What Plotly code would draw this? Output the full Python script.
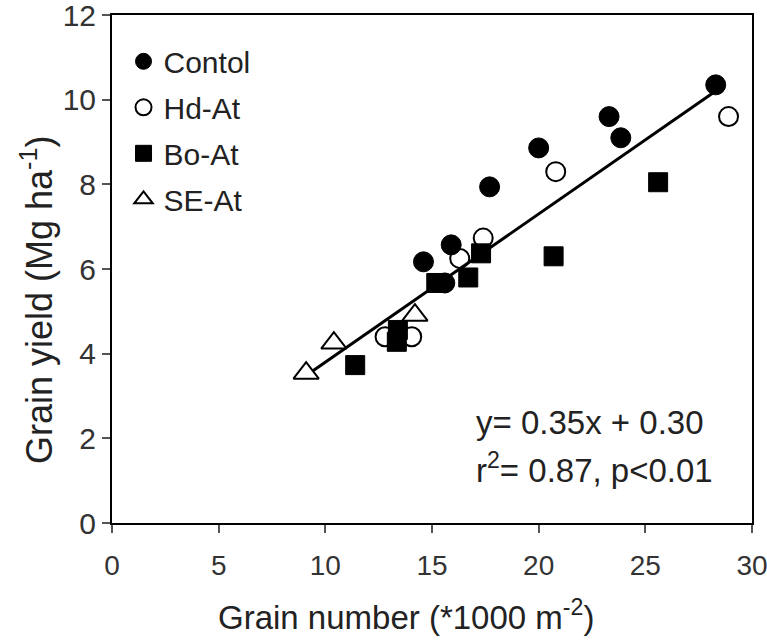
import plotly.graph_objects as go

control_x = [28.3, 23.3, 23.85, 20.0, 17.7, 14.6, 15.9, 15.6]
control_y = [10.35, 9.6, 9.1, 8.86, 7.94, 6.17, 6.57, 5.67]

hd_x = [28.9, 20.8, 17.4, 16.3, 12.8, 14.05]
hd_y = [9.6, 8.3, 6.73, 6.25, 4.4, 4.4]

bo_x = [25.6, 20.7, 17.3, 16.7, 15.2, 13.4, 13.35, 11.4]
bo_y = [8.05, 6.3, 6.37, 5.8, 5.67, 4.56, 4.28, 3.73]

se_x = [9.1, 10.4, 14.2]
se_y = [3.54, 4.25, 4.91]

fit_slope = 0.35
fit_intercept = 0.30
fit_x = [9.0, 28.3]
fit_y = [fit_slope * v + fit_intercept for v in fit_x]

FONT = "Liberation Sans, Arial, sans-serif"

fig = go.Figure()
fig.add_trace(go.Scatter(x=fit_x, y=fit_y, mode="lines", line=dict(color="black", width=3),
                         showlegend=False, hoverinfo="skip"))
fig.add_trace(go.Scatter(x=control_x, y=control_y, mode="markers", name="Contol",
                         legendgroup="a",
                         marker=dict(symbol="circle", size=20, color="black",
                                     line=dict(color="black", width=1))))
fig.add_trace(go.Scatter(x=hd_x, y=hd_y, mode="markers", name="Hd-At",
                         legendgroup="b",
                         marker=dict(symbol="circle-open", size=19, color="black",
                                     line=dict(color="black", width=2))))
fig.add_trace(go.Scatter(x=bo_x, y=bo_y, mode="markers", name="Bo-At",
                         legendgroup="c",
                         marker=dict(symbol="square", size=19, color="black",
                                     line=dict(color="black", width=1))))
fig.add_trace(go.Scatter(x=se_x, y=se_y, mode="markers", name="SE-At",
                         legendgroup="d",
                         marker=dict(symbol="triangle-up", size=22, color="white",
                                     line=dict(color="black", width=2))))

fig.update_layout(
    width=767, height=643,
    margin=dict(l=112, r=15, t=15, b=120, autoexpand=False),
    paper_bgcolor="white", plot_bgcolor="white",
    font=dict(family=FONT, size=30, color="#222"),
    showlegend=True,
    legend=dict(x=0.018, y=0.96, xanchor="left", yanchor="top",
                bgcolor="rgba(0,0,0,0)", font=dict(size=30, color="#222"),
                traceorder="grouped", tracegroupgap=4,
                itemsizing="trace"),
    xaxis=dict(range=[0, 30], tickvals=[0, 5, 10, 15, 20, 25, 30],
               showline=True, linecolor="black", linewidth=2, mirror=True,
               ticks="outside", ticklen=8, tickwidth=1.5, tickcolor="#555",
               showgrid=False, zeroline=False, ticklabeloverflow="allow",
               automargin=False, ticklabelstandoff=8,
               tickfont=dict(size=28, color="#333")),
    yaxis=dict(range=[0, 12], tickvals=[0, 2, 4, 6, 8, 10, 12],
               showline=True, linecolor="black", linewidth=2, mirror=True,
               ticks="outside", ticklen=8, tickwidth=1.5, tickcolor="#555",
               showgrid=False, zeroline=False, ticklabeloverflow="allow",
               automargin=False,
               tickfont=dict(size=30, color="#333")),
)

# axis titles placed as annotations to match the reference positions
fig.add_annotation(x=0.46, y=-0.181, xref="paper", yref="paper", xanchor="center", yanchor="middle",
                   text="Grain number (*1000 m<sup>-2</sup>)", showarrow=False,
                   font=dict(size=33, color="#222"))
fig.add_annotation(x=-0.117, y=0.439, xref="paper", yref="paper", xanchor="center", yanchor="middle",
                   text="Grain yield (Mg ha<sup>-1</sup>)", textangle=-90, showarrow=False,
                   font=dict(size=36, color="#222"))

fig.add_annotation(x=0.565, y=0.197, xref="paper", yref="paper", xanchor="left", yanchor="middle",
                   text="y= 0.35x + 0.30", showarrow=False, font=dict(size=33, color="#222"))
fig.add_annotation(x=0.565, y=0.108, xref="paper", yref="paper", xanchor="left", yanchor="middle",
                   text="r<sup>2</sup>= 0.87, p&lt;0.01", showarrow=False, font=dict(size=33, color="#222"))

fig.write_html("out.html")
